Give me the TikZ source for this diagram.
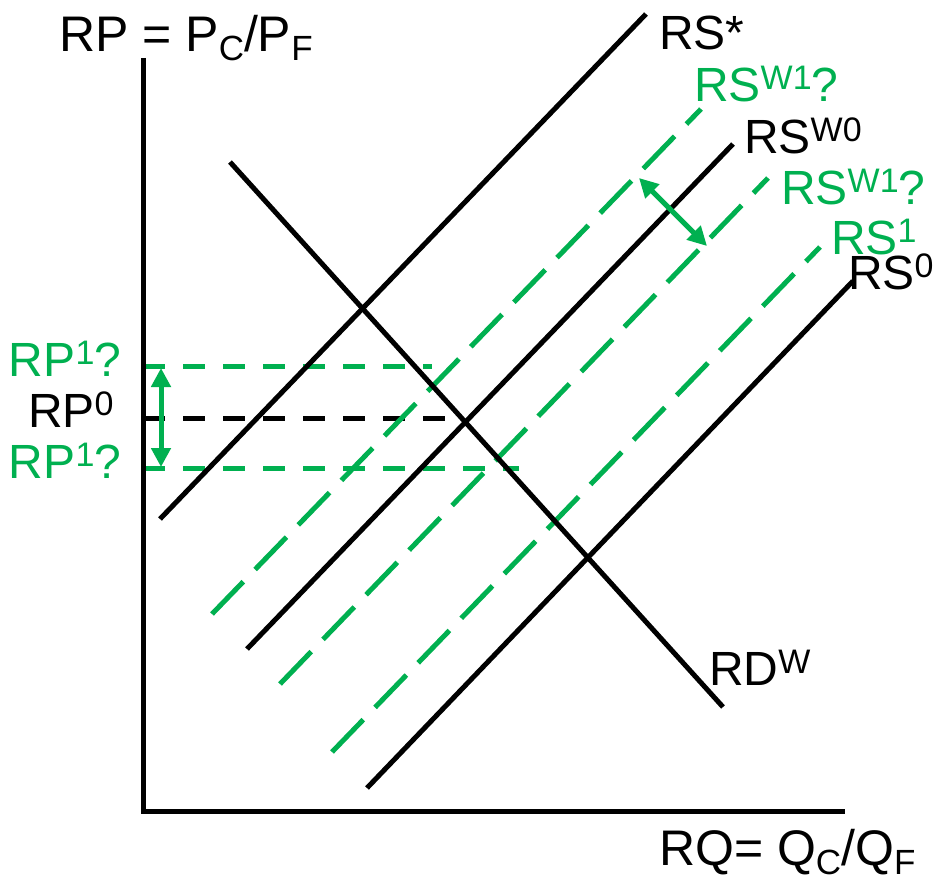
\documentclass[tikz,border=0pt]{standalone}
\usepackage{fontspec}
\setmainfont{Liberation Sans}
\usetikzlibrary{arrows.meta}
\definecolor{pgreen}{HTML}{00B050}
\newcommand{\supx}[1]{\raisebox{12pt}{\fontsize{34}{34}\selectfont #1}}
\newcommand{\subx}[1]{\raisebox{-9pt}{\fontsize{35}{35}\selectfont #1}}
\begin{document}
\begin{tikzpicture}[x=1pt,y=-1pt,
  lbl/.style={inner sep=0pt, outer sep=0pt, anchor=base west, font=\fontsize{48}{48}\selectfont},
  axlbl/.style={inner sep=0pt, outer sep=0pt, anchor=base west, font=\fontsize{50}{50}\selectfont},
  solidline/.style={line width=5pt, black},
  gdiag/.style={line width=5pt, pgreen, dash pattern=on 45pt off 17pt},
  hdash/.style={line width=5pt, dash pattern=on 22pt off 18pt},
  dblarrow/.style={line width=5pt, pgreen, {Triangle[length=19pt,width=19pt]}-{Triangle[length=19pt,width=19pt]}}]
\useasboundingbox (0,0) rectangle (940,883);
% coordinates
\coordinate (ytop) at (143,58);
\coordinate (orig) at (143,811);
\coordinate (xend) at (845,811);
\coordinate (rdA) at (230,162);
\coordinate (rdB) at (723,707);
\coordinate (rssA) at (160,519);
\coordinate (rssB) at (646,14);
\coordinate (rsw0A) at (247,649);
\coordinate (rsw0B) at (733,144);
\coordinate (rs0A) at (367,788);
\coordinate (rs0B) at (853,281);
\coordinate (g1A) at (212,614);
\coordinate (g1B) at (701,109);
\coordinate (g2A) at (280,684);
\coordinate (g2B) at (768,178);
\coordinate (g3A) at (332,752);
\coordinate (g3B) at (820,247);
\coordinate (hTopA) at (143,366);
\coordinate (hTopB) at (432,366);
\coordinate (hMidA) at (143,418);
\coordinate (hMidB) at (452,418);
\coordinate (hBotA) at (143,468);
\coordinate (hBotB) at (519,468);
\coordinate (vaA) at (161,368);
\coordinate (vaB) at (161,467);
\coordinate (daA) at (639,178);
\coordinate (daB) at (707,246);
% horizontal dashed lines
\draw[hdash, pgreen] (hTopA) -- (hTopB);
\draw[hdash, black] (hMidA) -- (hMidB);
\draw[hdash, pgreen] (hBotA) -- (hBotB);
% green dashed supply curves
\draw[gdiag] (g1A) -- (g1B);
\draw[gdiag] (g2A) -- (g2B);
\draw[gdiag] (g3A) -- (g3B);
% black curves
\draw[solidline] (rdA) -- (rdB);
\draw[solidline] (rssA) -- (rssB);
\draw[solidline] (rsw0A) -- (rsw0B);
\draw[solidline] (rs0A) -- (rs0B);
% axes
\draw[solidline, line join=miter] (ytop) -- (orig) -- (xend);
% arrows
\draw[dblarrow] (vaA) -- (vaB);
\draw[dblarrow] (daA) -- (daB);
% labels
\node[axlbl] (ylab) at (59,52) {RP = P\subx{C}/P\subx{F}};
\node[axlbl] (xlab) at (659,865) {RQ= Q\subx{C}/Q\subx{F}};
\node[lbl] (lrss) at (659,50) {RS*};
\node[lbl, text=pgreen] (lg1) at (694,101) {RS\supx{W1}?};
\node[lbl] (lrsw0) at (744,153) {RS\supx{W0}};
\node[lbl, text=pgreen] (lg2) at (781,204) {RS\supx{W1}?};
\node[lbl, text=pgreen] (lg3) at (831,254) {RS\supx{1}};
\node[lbl] (lrs0) at (848,289) {RS\supx{0}};
\node[lbl] (lrd) at (709,685) {RD\supx{W}};
\node[lbl, text=pgreen] (lrp1a) at (9,376) {RP\supx{1}?};
\node[lbl] (lrp0) at (28,427) {RP\supx{0}};
\node[lbl, text=pgreen] (lrp1b) at (9,478) {RP\supx{1}?};
\end{tikzpicture}
\end{document}
